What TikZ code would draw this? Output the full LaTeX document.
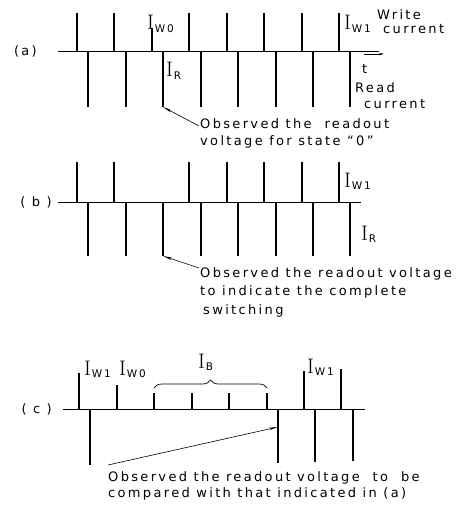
\documentclass[tikz,border=0pt]{standalone}
\usepackage{fontspec}
\newfontfamily\drawfont[LetterSpace=18]{DejaVu Sans}
\usetikzlibrary{arrows.meta,decorations.pathreplacing}

% current label: big serif I with a lowered sans subscript
\newcommand{\curr}[1]{{\fontsize{21}{21}\rmfamily I}\kern0.8pt\raisebox{-2.5pt}{\fontsize{10.5}{10.5}\drawfont #1}}

\begin{document}
\begin{tikzpicture}[x=1pt,y=-1pt,
  axis/.style={line width=0.9pt},
  pulse/.style={line width=1.4pt},
  note/.style={{Stealth[length=9pt,width=2.4pt]}-,line width=0.6pt},
  lbl/.style={inner sep=0pt,font=\drawfont\fontsize{13}{18}\selectfont},
  curlbl/.style={inner sep=0pt,anchor=base west}]
\useasboundingbox (0,0) rectangle (460,505);
% --- (a) write and read current trains ---
\node[lbl,anchor=east] (tagA) at (37,51) {(a)};
\draw[axis] (58,51) coordinate (a0) -- (379,51) coordinate (a1);
\foreach \x/\t in {77/13,114/13,152/28,189/13,227/13,264/13,302/13,339/13}
  \draw[pulse] (\x,51) -- (\x,\t);
\foreach \x in {88,126,163,201,238,276,313,350}
  \draw[pulse] (\x,51) -- (\x,107) coordinate (ra\x);
\coordinate (t0) at (364,54); \coordinate (t1) at (384,54);
\draw[-{Stealth[length=5pt,width=2.4pt]},line width=0.6pt] (t0) -- (t1);
\node[lbl,anchor=base west] (tA) at (362,74) {t};
\node[curlbl] (iw0A) at (147,30) {\curr{W0}};
\node[curlbl] (iw1A) at (344,30) {\curr{W1}};
\node[curlbl] (irA) at (166,77) {\curr{R}};
% multi-line labels are placed by the baseline of their last line
\node[lbl,anchor=base west,align=left] (wrA) at (377,34) {Write\\[-4pt]\hspace*{6pt}current};
\node[lbl,anchor=base west,align=left] (rdA) at (355,109) {Read\\[-2pt]\hspace*{9pt}current};
\coordinate (na) at (199,126);
\draw[note] (ra163) -- (na);
\node[lbl,anchor=base west,align=left] (noteA) at (200,146)
  {Observed the \ readout\\[-1pt]voltage for state “0”};
% --- (b) ---
\node[lbl,anchor=east] (tagB) at (52,202) {( b )};
\draw[axis] (58,202) coordinate (b0) -- (361,202) coordinate (b1);
\foreach \x in {77,114,189,227,264,302,339}
  \draw[pulse] (\x,202) -- (\x,162);
\foreach \x in {88,126,163,201,238,276,313,350}
  \draw[pulse] (\x,202) -- (\x,256) coordinate (rb\x);
\node[curlbl] (iw1B) at (344,187) {\curr{W1}};
\node[curlbl] (irB) at (361,240) {\curr{R}};
\coordinate (nb) at (199,268);
\draw[note] (rb163) -- (nb);
\node[lbl,anchor=base west,align=left] (noteB) at (200,314)
  {Observed the readout voltage\\[0.5pt]to indicate the complete\\[0.5pt]\hspace*{3pt}switching};
% --- (c) ---
\node[lbl,anchor=east] (tagC) at (52,409) {( c )};
\draw[axis] (63,409) coordinate (c0) -- (365,409) coordinate (c1);
\foreach \x/\t in {79/373,117/385,154/393,192/393,229/393,267/393,304/371,341/369}
  \draw[pulse] (\x,409) -- (\x,\t);
\foreach \x/\b in {90/465,278/463,315/462,353/461}
  \draw[pulse] (\x,409) -- (\x,\b) coordinate (rc\x);
\coordinate (pc) at (278,427);
\coordinate (nc) at (108,465);
\draw[note] (pc) -- (nc);
\draw[decorate,decoration={brace,amplitude=8pt},line width=0.7pt] (154,388) -- (267,388);
\node[curlbl] (iw1C) at (84,375) {\curr{W1}};
\node[curlbl] (iw0C) at (119,375) {\curr{W0}};
\node[curlbl] (ibC) at (198,368) {\curr{B}};
\node[curlbl] (iw1D) at (307,373) {\curr{W1}};
\node[lbl,anchor=base west,align=left] (noteC) at (108,497)
  {Observed the readout voltage \ to \ be\\[-2pt]compared with that indicated in (a)};
\end{tikzpicture}
\end{document}
